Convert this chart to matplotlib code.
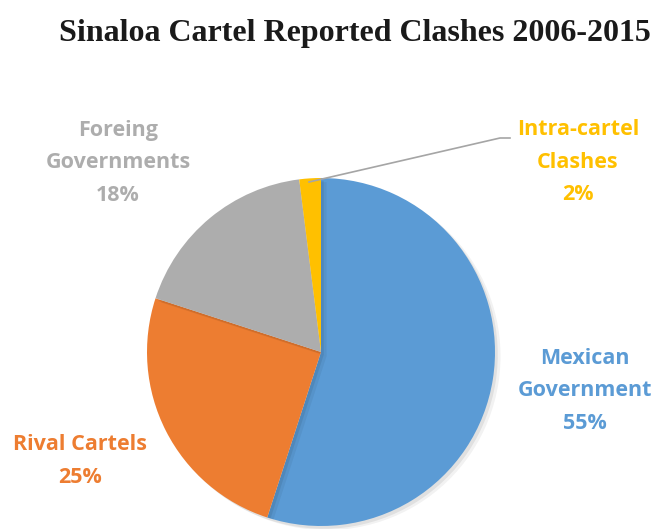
import matplotlib
matplotlib.use("Agg")
import matplotlib.pyplot as plt
import matplotlib.patheffects as pe

categories = ["Mexican\nGovernment", "Rival Cartels", "Foreing\nGovernments", "Intra-cartel\nClashes"]
values = [55, 25, 18, 2]
colors = ["#5B9BD5", "#ED7D31", "#ADADAD", "#FFC000"]
text_colors = ["#5B9BD5", "#ED7D31", "#ADADAD", "#FFC000"]
title = "Sinaloa Cartel Reported Clashes 2006-2015"

W, H = 657, 529
fig = plt.figure(figsize=(W / 100, H / 100), dpi=100)
ax = fig.add_axes([0, 0, 1, 1])

cx, cy, r = 321, H - 352, 174
wedges, _ = ax.pie(values, colors=colors, startangle=90, counterclock=False,
                   center=(cx, cy), radius=r, frame=True,
                   wedgeprops=dict(linewidth=0))
for w in wedges:
    w.set_path_effects([
        pe.SimplePatchShadow(offset=(4, -3), shadow_rgbFace="#000000", alpha=0.05),
        pe.SimplePatchShadow(offset=(2, -2), shadow_rgbFace="#000000", alpha=0.07),
        pe.Normal()])
ax.set_xlim(0, W)
ax.set_ylim(0, H)
ax.set_aspect("equal")
ax.axis("off")

font = dict(family="Open Sans", fontweight="bold", fontsize=15.5, ha="center", va="center", linespacing=1.72)
label_pos = [(585, 391), (80, 461), (118, 163), (578, 162)]
for cat, v, col, (x, y) in zip(categories, values, text_colors, label_pos):
    ax.text(x, H - y, f"{cat}\n{v}%", color=col, **font)

# leader line for the small slice
ax.plot([309, 500, 510], [H - 182, H - 138, H - 138], color="#A5A5A5", lw=1.2)

fig.text(355 / W, 1 - 33 / H, title, family="Liberation Serif", fontweight="bold",
         fontsize=23, ha="center", va="center", color="#1a1a1a")

fig.savefig("out.png", dpi=100, facecolor="white")
